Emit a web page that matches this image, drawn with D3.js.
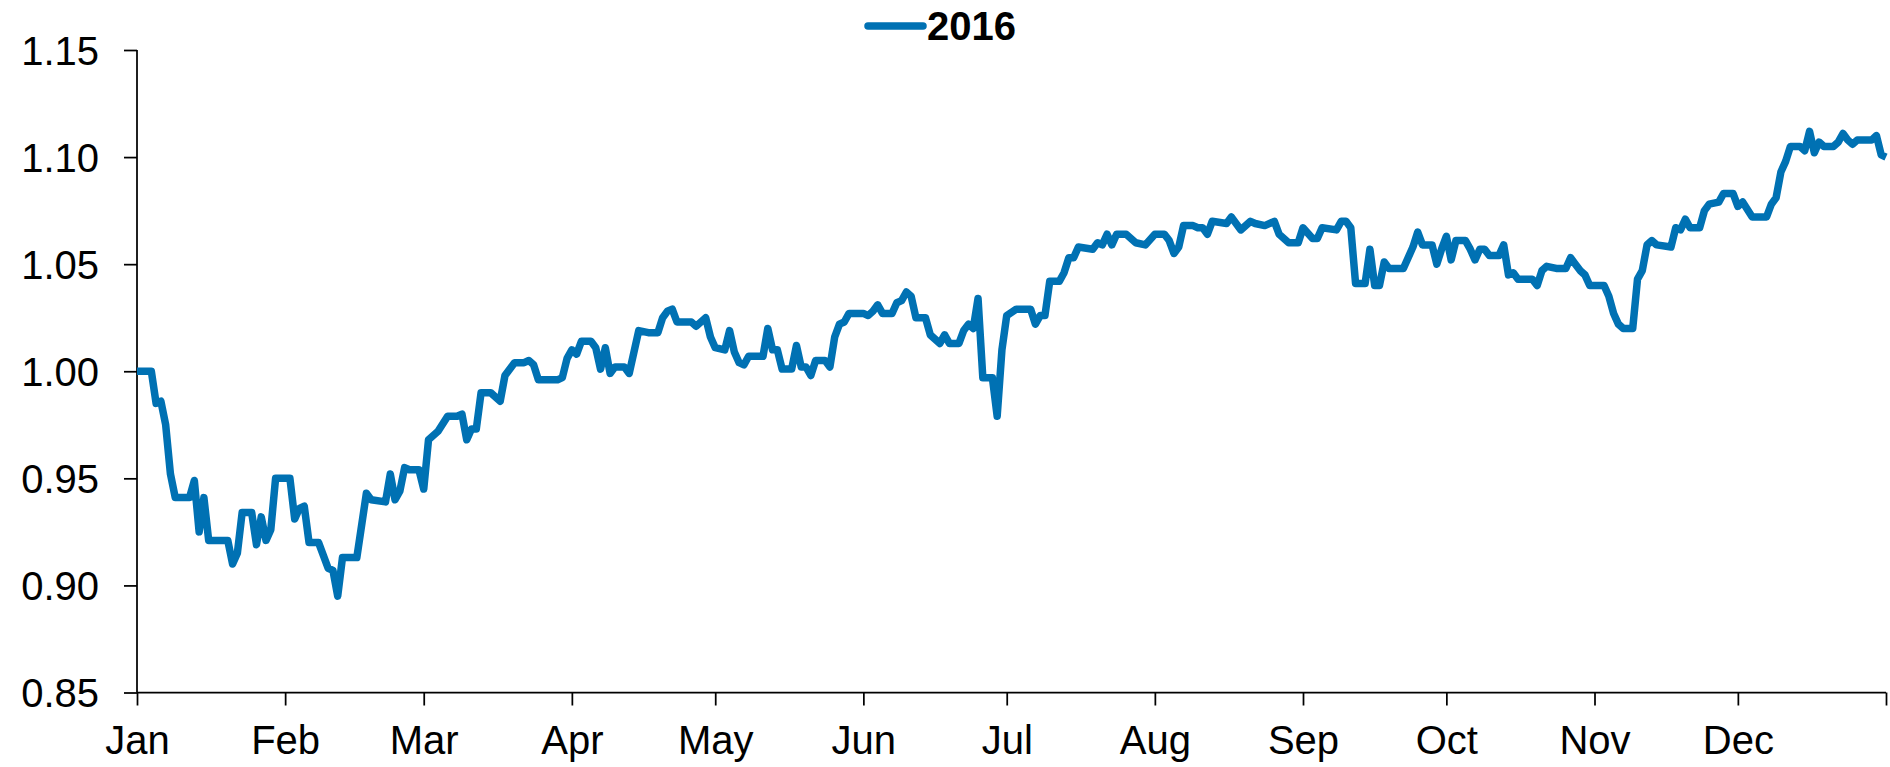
<!DOCTYPE html>
<html>
<head>
<meta charset="utf-8">
<script src="https://cdn.jsdelivr.net/npm/d3@7"></script>
<style>
  body { margin: 0; background: #fff; }
  svg { display: block; }
  .axis text { font-family: Arial, "Liberation Sans", sans-serif; font-size: 40px; fill: #000; }
  .axis path, .axis line { stroke: #000; stroke-width: 1.75px; }
</style>
</head>
<body>
<div id="chart"></div>
<script>
// Series name and y ticks
const seriesName = '2016';
const yTicks = [0.85, 0.90, 0.95, 1.00, 1.05, 1.10, 1.15];

// Day of year (0 = 1 Jan 2016), one row per month
const days = [
  0, 3, 4, 5, 6, 7, 8, 11, 12, 13, 14, 15, 19, 20, 21, 22, 24, 25, 26, 27, 28, 29,
  32, 33, 34, 35, 36, 38, 40, 41, 42, 43, 46, 48, 49, 52, 53, 54, 55, 56, 57, 59,
  60, 61, 63, 65, 67, 68, 69, 70, 71, 72, 74, 76, 77, 79, 81, 82, 83, 84, 88, 89, 90,
  91, 92, 93, 95, 96, 97, 98, 99, 100, 102, 103, 105, 107, 109, 110, 111, 112, 113, 116, 117, 119, 120,
  121, 123, 124, 125, 126, 127, 128, 131, 132, 133, 134, 135, 137, 138, 139, 140, 141, 142, 144, 145, 146, 147, 148, 149,
  152, 153, 154, 155, 156, 158, 159, 160, 161, 162, 163, 165, 166, 168, 169, 170, 172, 173, 174, 175, 176, 177, 179, 180, 181,
  182, 184, 187, 188, 189, 190, 191, 193, 194, 195, 196, 197, 200, 201, 202, 203, 204, 205, 207, 209, 211,
  213, 215, 216, 217, 218, 219, 221, 222, 223, 224, 225, 228, 229, 231, 233, 234, 236, 238, 239, 241, 243,
  244, 246, 247, 248, 251, 252, 253, 254, 255, 257, 258, 259, 260, 261, 262, 265, 267, 268, 269, 271, 272, 273,
  274, 275, 276, 278, 279, 280, 281, 282, 283, 285, 286, 287, 288, 289, 292, 293, 294, 295, 297, 299, 300, 301, 302, 303, 304,
  307, 308, 309, 310, 311, 313, 314, 315, 316, 317, 318, 321, 322, 323, 324, 325, 327, 328, 329, 331, 332, 334,
  335, 336, 338, 341, 342, 343, 344, 345, 346, 348, 349, 350, 351, 352, 353, 355, 356, 357, 358, 359, 360, 363, 364, 365, 366
];

// Index values, same rows as days
const values = [
  1.000, 1.000, 0.985, 0.986, 0.975, 0.952, 0.941, 0.941, 0.949, 0.925, 0.941, 0.921, 0.921, 0.910, 0.915, 0.934, 0.934, 0.919, 0.932, 0.921, 0.926, 0.950,
  0.950, 0.931, 0.936, 0.937, 0.920, 0.920, 0.908, 0.907, 0.895, 0.913, 0.913, 0.943, 0.940, 0.939, 0.952, 0.940, 0.944, 0.955, 0.954, 0.954,
  0.945, 0.968, 0.972, 0.979, 0.979, 0.980, 0.968, 0.973, 0.973, 0.990, 0.990, 0.986, 0.998, 1.004, 1.004, 1.005, 1.003, 0.996, 0.996, 0.997, 1.006,
  1.010, 1.008, 1.014, 1.014, 1.011, 1.001, 1.011, 0.999, 1.002, 1.002, 0.999, 1.019, 1.018, 1.018, 1.025, 1.028, 1.029, 1.023, 1.023, 1.021, 1.025, 1.016,
  1.011, 1.010, 1.019, 1.009, 1.004, 1.003, 1.007, 1.007, 1.020, 1.010, 1.010, 1.001, 1.001, 1.012, 1.002, 1.002, 0.998, 1.005, 1.005, 1.002, 1.016, 1.022, 1.023, 1.027,
  1.027, 1.026, 1.028, 1.031, 1.027, 1.027, 1.032, 1.033, 1.037, 1.035, 1.025, 1.025, 1.017, 1.013, 1.017, 1.013, 1.013, 1.019, 1.022, 1.020, 1.034, 0.997, 0.997, 0.979, 1.010,
  1.026, 1.029, 1.029, 1.022, 1.026, 1.026, 1.042, 1.042, 1.046, 1.053, 1.053, 1.058, 1.057, 1.060, 1.059, 1.064, 1.059, 1.064, 1.064, 1.060, 1.059,
  1.064, 1.064, 1.061, 1.055, 1.058, 1.068, 1.068, 1.067, 1.067, 1.064, 1.070, 1.069, 1.072, 1.066, 1.070, 1.069, 1.068, 1.070, 1.064, 1.060, 1.060,
  1.067, 1.062, 1.062, 1.067, 1.066, 1.070, 1.070, 1.067, 1.041, 1.041, 1.057, 1.040, 1.040, 1.051, 1.048, 1.048, 1.058, 1.065, 1.059, 1.059, 1.050, 1.057,
  1.063, 1.052, 1.061, 1.061, 1.057, 1.052, 1.057, 1.057, 1.054, 1.054, 1.059, 1.045, 1.046, 1.043, 1.043, 1.040, 1.047, 1.049, 1.048, 1.048, 1.053, 1.050, 1.047, 1.045, 1.040,
  1.040, 1.035, 1.027, 1.022, 1.020, 1.020, 1.043, 1.047, 1.059, 1.061, 1.059, 1.058, 1.067, 1.066, 1.071, 1.067, 1.067, 1.075, 1.078, 1.079, 1.083, 1.083,
  1.077, 1.079, 1.072, 1.072, 1.078, 1.081, 1.093, 1.098, 1.105, 1.105, 1.103, 1.112, 1.102, 1.107, 1.105, 1.105, 1.107, 1.111, 1.108, 1.106, 1.108, 1.108, 1.110, 1.101, 1.100
];

const width = 1890;
const height = 767;
const margin = {top: 50, right: 4, bottom: 74.5, left: 137};
const lineColor = '#0071b3';

const start = new Date(Date.UTC(2016, 0, 1));
const end = new Date(Date.UTC(2017, 0, 1));

const data = days.map((d, i) => ({date: d3.utcDay.offset(start, d), value: values[i]}));

const svg = d3.select('#chart').append('svg')
    .attr('width', width)
    .attr('height', height);

const x = d3.scaleUtc()
    .domain([start, end])
    .range([margin.left, width - margin.right]);

const y = d3.scaleLinear()
    .domain([0.85, 1.15])
    .range([height - margin.bottom, margin.top]);

// Axes
const xAxis = d3.axisBottom(x)
    .tickValues(d3.utcMonth.range(start, d3.utcDay.offset(end, 1)))
    .tickSize(13)
    .tickPadding(20)
    .tickFormat(d => +d === +end ? '' : d3.utcFormat('%b')(d));

const yAxis = d3.axisLeft(y)
    .tickValues(yTicks)
    .tickSize(13)
    .tickPadding(25)
    .tickFormat(d3.format('.2f'));

svg.append('g')
    .attr('class', 'x axis')
    .attr('transform', `translate(0,${height - margin.bottom})`)
    .call(xAxis)
    .call(g => g.select('.domain').attr('d', `M${margin.left},0H${width - margin.right}`));

svg.append('g')
    .attr('class', 'y axis')
    .attr('transform', `translate(${margin.left},0)`)
    .call(yAxis)
    .call(g => g.select('.domain').attr('d', `M0,${margin.top}V${height - margin.bottom}`));

svg.selectAll('.y.axis text').attr('dy', '0.36em');

// Line
const line = d3.line()
    .x(d => x(d.date))
    .y(d => y(d.value));

svg.append('path')
    .datum(data)
    .attr('fill', 'none')
    .attr('stroke', lineColor)
    .attr('stroke-width', 7.5)
    .attr('stroke-linejoin', 'round')
    .attr('d', line);

// Legend
const legend = svg.append('g').attr('transform', 'translate(868,26)');
legend.append('line')
    .attr('x1', 0).attr('x2', 55)
    .attr('stroke', lineColor)
    .attr('stroke-width', 7.5)
    .attr('stroke-linecap', 'round');
legend.append('text')
    .attr('x', 59)
    .attr('y', 13.5)
    .style('font-family', 'Arial, "Liberation Sans", sans-serif')
    .style('font-size', '40px')
    .style('font-weight', 'bold')
    .text(seriesName);
</script>
</body>
</html>
